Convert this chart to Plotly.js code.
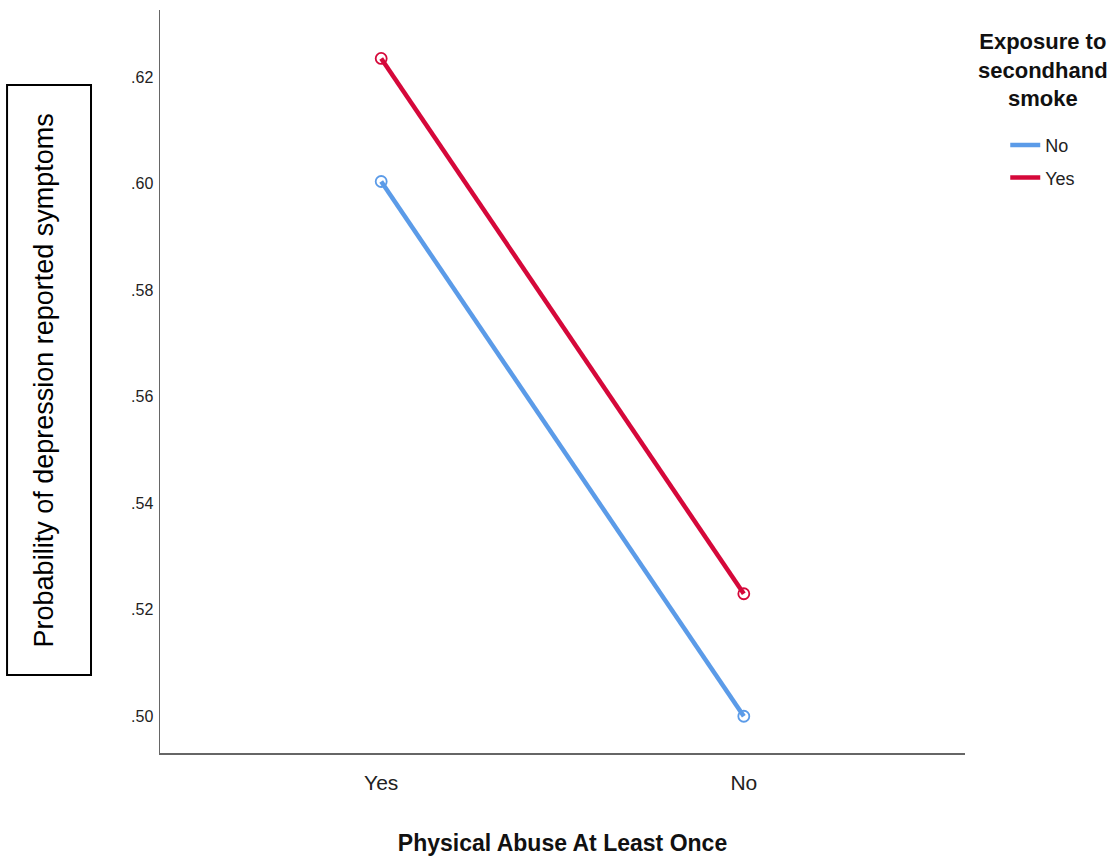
<!DOCTYPE html>
<html>
<head>
<meta charset="utf-8">
<script src="https://cdn.plot.ly/plotly-3.0.1.min.js"></script>
<style>html,body{margin:0;padding:0;background:#fff;}#chart{width:1118px;height:863px;}</style>
</head>
<body>
<div id="chart"></div>
<script>
const categories = ['Yes', 'No'];
const seriesNames = ['No', 'Yes'];
const valuesNo = [0.6004, 0.5000];
const valuesYes = [0.6235, 0.5230];
const yTickVals = [0.50, 0.52, 0.54, 0.56, 0.58, 0.60, 0.62];
const yTickText = ['.50', '.52', '.54', '.56', '.58', '.60', '.62'];

const colors = ['#5b9be8', '#d5083a'];
const font = '"Liberation Sans", Arial, sans-serif';

const series = [valuesNo, valuesYes];
const legendIds = ['legend', 'legend2'];
const traces = [];
series.forEach((vals, i) => {
  traces.push({
    x: categories, y: vals, type: 'scatter', mode: 'lines+markers',
    name: seriesNames[i], showlegend: false,
    line: {color: colors[i], width: 4.5},
    marker: {symbol: 'circle-open', size: 11, color: colors[i], line: {width: 1.8, color: colors[i]}}
  });
});
series.forEach((vals, i) => {
  traces.push({
    x: [null], y: [null], type: 'scatter', mode: 'lines',
    name: seriesNames[i], showlegend: true, legend: legendIds[i],
    line: {color: colors[i], width: 4.5}
  });
});

const legendBase = {
  xanchor: 'left', yanchor: 'middle',
  bgcolor: 'rgba(0,0,0,0)',
  font: {family: font, size: 18, color: '#222'},
  itemwidth: 30, borderwidth: 0
};

const layout = {
  width: 1118, height: 863,
  margin: {l: 160, r: 153, t: 10, b: 110},
  paper_bgcolor: '#fff', plot_bgcolor: '#fff',
  showlegend: true,
  xaxis: {
    type: 'category', range: [-0.61, 1.61],
    showgrid: false, zeroline: false, ticks: '',
    showline: true, linecolor: '#666', linewidth: 1.5,
    tickfont: {family: font, size: 21, color: '#222'},
    ticklabelstandoff: 10,
    title: {text: '<b>Physical Abuse At Least Once</b>', font: {family: font, size: 23, color: '#111'}, standoff: 42},
    automargin: false
  },
  yaxis: {
    range: [0.4931, 0.6326],
    tickvals: yTickVals, ticktext: yTickText,
    showgrid: false, zeroline: false, ticks: '',
    showline: true, linecolor: '#666', linewidth: 1.5,
    tickfont: {family: font, size: 16, color: '#222'},
    ticklabelstandoff: 2,
    automargin: false
  },
  legend: Object.assign({x: 1.05, y: 0.818}, legendBase),
  legend2: Object.assign({x: 1.05, y: 0.774}, legendBase),
  shapes: [{
    type: 'rect', xref: 'paper', yref: 'paper',
    x0: -0.190, x1: -0.0857, y0: 0.105, y1: 0.899,
    line: {color: '#000', width: 2}, fillcolor: 'rgba(0,0,0,0)'
  }],
  annotations: [{
    xref: 'paper', yref: 'paper', x: -0.1445, y: 0.501,
    text: 'Probability of depression reported symptoms',
    textangle: -90, showarrow: false,
    font: {family: font, size: 27, color: '#000'},
    xanchor: 'center', yanchor: 'middle'
  }, {
    xref: 'paper', yref: 'paper', x: 1.097, y: 0.919,
    text: '<b>Exposure to<br>secondhand<br>smoke</b>', align: 'center',
    showarrow: false, xanchor: 'center', yanchor: 'middle',
    font: {family: font, size: 22, color: '#111'}
  }]
};

Plotly.newPlot('chart', traces, layout, {displayModeBar: false, staticPlot: true});
</script>
</body>
</html>
